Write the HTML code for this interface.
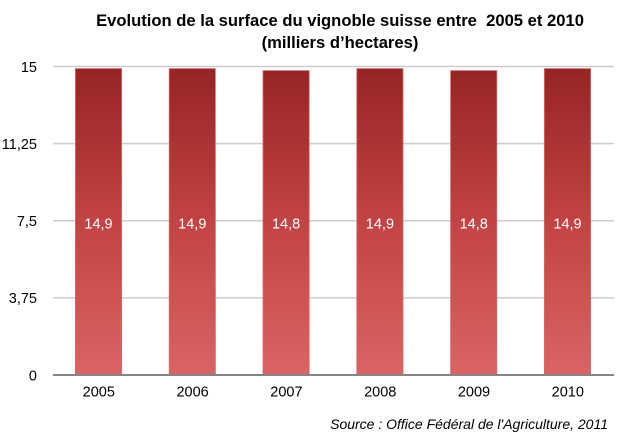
<!DOCTYPE html>
<html>
<head>
<meta charset="utf-8">
<style>
html,body{margin:0;padding:0;background:#fff;}
svg{display:block;}
text{font-family:"Liberation Sans",Arial,sans-serif;}
</style>
</head>
<body>
<svg width="629" height="447" viewBox="0 0 629 447" xmlns="http://www.w3.org/2000/svg">
<defs>
<linearGradient id="g" x1="0" y1="66" x2="0" y2="375" gradientUnits="userSpaceOnUse">
<stop offset="0" stop-color="#962323"/>
<stop offset="0.5" stop-color="#c24343"/>
<stop offset="1" stop-color="#da6464"/>
</linearGradient>
</defs>
<rect width="629" height="447" fill="#fff"/>
<text x="340" y="26" text-anchor="middle" font-size="16.6" font-weight="bold" fill="#000">Evolution de la surface du vignoble suisse entre&#160; 2005 et 2010</text>
<text x="340" y="48" text-anchor="middle" font-size="16.6" font-weight="bold" fill="#000">(milliers d’hectares)</text>
<g stroke="#cccccc" stroke-width="1.5">
<line x1="53" y1="66.5" x2="614" y2="66.5"/>
<line x1="53" y1="143.6" x2="614" y2="143.6"/>
<line x1="53" y1="220.8" x2="614" y2="220.8"/>
<line x1="53" y1="297.9" x2="614" y2="297.9"/>
</g>
<g font-size="14.5" fill="#000" text-anchor="end">
<text x="37" y="72">15</text>
<text x="37" y="149">11,25</text>
<text x="37" y="226">7,5</text>
<text x="37" y="303">3,75</text>
<text x="37" y="380.5">0</text>
</g>
<g fill="url(#g)" stroke="#d56a6a" stroke-width="0.8">
<rect x="75.4" y="68.6" width="46.2" height="306.4"/>
<rect x="169.2" y="68.6" width="46.2" height="306.4"/>
<rect x="263" y="70.6" width="46.2" height="304.4"/>
<rect x="356.8" y="68.6" width="46.2" height="306.4"/>
<rect x="450.6" y="70.6" width="46.2" height="304.4"/>
<rect x="544.4" y="68.6" width="46.2" height="306.4"/>
</g>
<line x1="53" y1="375" x2="614" y2="375" stroke="#858585" stroke-width="2"/>
<g font-size="14.5" fill="#fff" text-anchor="middle">
<text x="98.5" y="228.3">14,9</text>
<text x="192.3" y="228.3">14,9</text>
<text x="286.1" y="228.3">14,8</text>
<text x="379.9" y="228.3">14,9</text>
<text x="473.7" y="228.3">14,8</text>
<text x="567.5" y="228.3">14,9</text>
</g>
<g font-size="14.5" fill="#000" text-anchor="middle">
<text x="98.8" y="396.5">2005</text>
<text x="192.6" y="396.5">2006</text>
<text x="286.4" y="396.5">2007</text>
<text x="380.2" y="396.5">2008</text>
<text x="474" y="396.5">2009</text>
<text x="567.8" y="396.5">2010</text>
</g>
<text x="608" y="429" text-anchor="end" font-size="14" font-style="italic" fill="#000">Source : Office Fédéral de l'Agriculture, 2011</text>
</svg>
</body>
</html>
